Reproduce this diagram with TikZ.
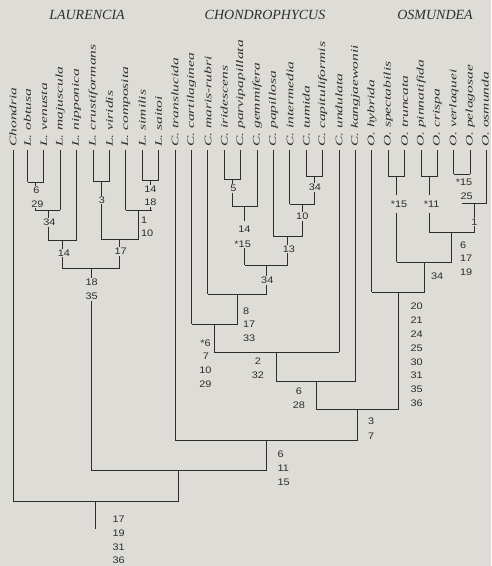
\documentclass[tikz,border=0pt]{standalone}
\usepackage{fontspec}
\setmainfont{Liberation Serif}
\newfontfamily\spfont[FakeStretch=1.55]{Liberation Serif}
\newfontfamily\numfont[FakeStretch=1.15]{Liberation Sans}
\definecolor{bg}{RGB}{221,220,214}
\definecolor{ink}{RGB}{45,45,45}
\tikzset{
  lab/.style={font=\spfont\itshape\fontsize{10}{10}\selectfont, rotate=90, anchor=west, inner sep=0pt, text=ink},
  num/.style={font=\numfont\fontsize{9.5}{9.5}\selectfont, inner sep=0.8pt, text=ink},
  numw/.style={num, anchor=west},
  genus/.style={font=\itshape\fontsize{14}{14}\selectfont, text=ink},
  br/.style={draw=ink, line width=0.9pt}
}
\begin{document}
\begin{tikzpicture}[x=1pt,y=-1pt]
\fill[bg] (0,0) rectangle (491,566);
\useasboundingbox (0,0) rectangle (491,566);

% genus headings
\node[genus] (gL) at (87,14.5) {LAURENCIA};
\node[genus] (gC) at (265,14.5) {CHONDROPHYCUS};
\node[genus] (gO) at (435,14.5) {OSMUNDEA};

% taxa
\node[lab] (n0) at (13,147) {Chondria};
\coordinate (t0) at (13,150);
\coordinate (b0) at (13,501);
\draw[br] (t0) -- (b0);
\foreach \nm/\yb/\dx [count=\i] in {
  L. obtusa/182/0, L. venusta/182/0, L. majuscula/210/0, L. nipponica/240/0,
  L. crustiformans/181.7/0, L. viridis/181.7/0, L. composita/210/0, L. similis/180/0, L. saitoi/180/0,
  C. translucida/440/0, C. cartilaginea/324/0, C. maris-rubri/294/0, C. iridescens/179/0,
  C. parvipapillata/179/0, C. gemmifera/206.7/0, C. papillosa/236.7/0, C. intermedia/204/0,
  C. tumida/176.7/0, C. capituliformis/176.7/0, C. undulata/352/0, C. kangjaewonii/381/0,
  O. hybrida/292/0, O. spectabilis/176/0, O. truncata/176/0, O. pinnatifida/176/0, O. crispa/176/0,
  O. verlaquei/174/0, O. pelagosae/174/0, O. osmunda/203/-1.6}{
  \pgfmathsetmacro\xx{27.5+16.4*(\i-1)}
  \node[lab] (n\i) at (\xx+\dx,147) {\nm};
  \coordinate (t\i) at (\xx,150);
  \coordinate (b\i) at (\xx,\yb);
  \draw[br] (t\i) -- (b\i);
}

% ---------------- Laurencia ----------------
\draw[br] (b1) -- (b2);
\coordinate (A1) at (35.7,182);
\node[num] (A1a) at (36.5,190.5) {6};
\node[num] (A1b) at (37.5,204) {29};
\coordinate (A1e) at (35.7,210);
\draw[br] (A1) -- (A1 |- A1a.north);
\draw[br] (A1 |- A1b.south) -- (A1e) -- (b3);

\coordinate (A2) at (48,210);
\node[num] (A2a) at (49.5,222.7) {34};
\coordinate (A2e) at (48,240);
\draw[br] (A2) -- (A2 |- A2a.north);
\draw[br] (A2 |- A2a.south) -- (A2e) -- (b4);

\coordinate (A3) at (62.35,240);
\node[num] (A3a) at (64,253) {14};
\coordinate (A3e) at (62.35,268);
\draw[br] (A3) -- (A3 |- A3a.north);
\draw[br] (A3 |- A3a.south) -- (A3e);

\draw[br] (b5) -- (b6);
\coordinate (B1) at (101.3,181.7);
\node[num] (B1a) at (101.8,200) {3};
\coordinate (B1e) at (101.3,239.5);
\draw[br] (B1) -- (B1 |- B1a.north);
\draw[br] (B1 |- B1a.south) -- (B1e);

\draw[br] (b8) -- (b9);
\coordinate (B2) at (150.5,180);
\node[num] (B2a) at (150.5,189) {14};
\node[num] (B2b) at (150.5,202.7) {18};
\coordinate (B2e) at (151.5,210);
\draw[br] (B2) -- (B2 |- B2a.north);
\draw[br] (B2 |- B2b.south) -- (B2 |- B2e);
\draw[br] (B2e) -- (b7);
\coordinate (B2m) at (138.2,210);
\node[numw] (B2c) at (140,220) {1};
\node[numw] (B2d) at (140,233.3) {10};
\coordinate (B2f) at (138.2,239.5);
\draw[br] (B2m) -- (B2f) -- (B1e);

\coordinate (B3) at (119.75,239.5);
\node[num] (B3a) at (120.7,251.7) {17};
\coordinate (B3e) at (119.75,268);
\draw[br] (B3) -- (B3 |- B3a.north);
\draw[br] (B3 |- B3a.south) -- (B3e) -- (A3e);

\coordinate (L) at (91.05,268);
\node[num] (La) at (91.7,282.7) {18};
\node[num] (Lb) at (91.7,296.7) {35};
\coordinate (Le) at (91.05,470);
\draw[br] (L) -- (L |- La.north);
\draw[br] (L |- Lb.south) -- (Le);

% ---------------- Chondrophycus ----------------
\draw[br] (b13) -- (b14);
\coordinate (C1) at (232.5,179);
\node[num] (C1a) at (233.3,188.3) {5};
\coordinate (C1e) at (232.5,206.7);
\draw[br] (C1) -- (C1 |- C1a.north);
\draw[br] (C1 |- C1a.south) -- (C1e) -- (b15);

\coordinate (C2) at (244.8,206.7);
\node[num] (C2a) at (244.5,229.3) {14};
\node[num] (C2b) at (242.7,244) {*15};
\coordinate (C2e) at (244.8,265);
\draw[br] (C2) -- ([yshift=4pt]C2 |- C2a.north);
\draw[br] (C2 |- C2b.south) -- (C2e);

\draw[br] (b18) -- (b19);
\coordinate (C3) at (314.5,176.7);
\node[num] (C3a) at (315,187.3) {34};
\coordinate (C3e) at (314.5,204);
\draw[br] (C3) -- (C3 |- C3a.north);
\draw[br] (C3 |- C3a.south) -- (C3e) -- (b17);

\coordinate (C4) at (302.2,204);
\node[num] (C4a) at (302.3,216.7) {10};
\coordinate (C4e) at (302.2,236.7);
\draw[br] (C4) -- (C4 |- C4a.north);
\draw[br] (C4 |- C4a.south) -- (C4e) -- (b16);

\coordinate (C5) at (287.85,236.7);
\node[num] (C5a) at (289,249) {13};
\coordinate (C5e) at (287.85,265);
\draw[br] (C5) -- (C5 |- C5a.north);
\draw[br] (C5 |- C5a.south) -- (C5e) -- (C2e);

\coordinate (C6) at (266.3,265);
\node[num] (C6a) at (267.3,280.7) {34};
\coordinate (C6e) at (266.3,294);
\draw[br] (C6) -- (C6 |- C6a.north);
\draw[br] (C6 |- C6a.south) -- (C6e) -- (b12);

\coordinate (C7) at (237.1,294);
\node[numw] (C7a) at (242,311) {8};
\node[numw] (C7b) at (242,324.7) {17};
\node[numw] (C7c) at (242,338) {33};
\coordinate (C7e) at (237.1,324);
\draw[br] (C7) -- (C7e) -- (b11);

\coordinate (C8) at (214.3,324);
\node[num] (C8a) at (205.5,343) {*6};
\node[num] (C8b) at (206,356) {7};
\node[num] (C8c) at (205.5,370) {10};
\node[num] (C8d) at (205.5,384) {29};
\coordinate (C8e) at (214.3,352);
\draw[br] (C8) -- (C8e) -- (b20);

\coordinate (C9) at (276.7,352);
\node[num] (C9a) at (258,361) {2};
\node[num] (C9b) at (258,375) {32};
\coordinate (C9e) at (276.7,381);
\draw[br] (C9) -- (C9e) -- (b21);

\coordinate (C10) at (316.1,381);
\node[num] (C10a) at (299,391.7) {6};
\node[num] (C10b) at (299,405.7) {28};
\coordinate (C10e) at (316.1,409);
\draw[br] (C10) -- (C10e);

% ---------------- Osmundea ----------------
\draw[br] (b23) -- (b24);
\coordinate (O1) at (396.5,176);
\node[num] (O1a) at (399,204) {*15};
\coordinate (O1e) at (396.5,262);
\draw[br] (O1) -- ([yshift=5pt]O1 |- O1a.north);
\draw[br] ([yshift=-5pt]O1 |- O1a.south) -- (O1e);

\draw[br] (b25) -- (b26);
\coordinate (O2) at (429.3,176);
\node[num] (O2a) at (431.7,204) {*11};
\coordinate (O2e) at (429.3,232);
\draw[br] (O2) -- ([yshift=5pt]O2 |- O2a.north);
\draw[br] ([yshift=-5pt]O2 |- O2a.south) -- (O2e);

\draw[br] (b27) -- (b28);
\coordinate (O3) at (462.1,174);
\node[num] (O3a) at (464,182.3) {*15};
\node[num] (O3b) at (466.7,196.7) {25};
\coordinate (O3e) at (462.1,203);
\draw[br] (O3e) -- (b29);

\coordinate (O3m) at (474.4,203);
\node[num] (O3c) at (474.4,222) {1};
\coordinate (O3f) at (474.4,232);
\draw[br] (O3m) -- (O3m |- O3c.north);
\draw[br] (O3m |- O3c.south) -- (O3f) -- (O2e);

\coordinate (O4) at (451.85,232);
\node[numw] (O4a) at (459,245) {6};
\node[numw] (O4b) at (459,258.5) {17};
\node[numw] (O4c) at (459,272) {19};
\coordinate (O4e) at (451.85,262);
\draw[br] (O4) -- (O4e) -- (O1e);

\coordinate (O5) at (424.2,262);
\node[numw] (O5a) at (430,276) {34};
\coordinate (O5e) at (424.2,292);
\draw[br] (O5) -- (O5e) -- (b22);

\coordinate (O6) at (398.05,292);
\foreach \v [count=\k from 0] in {20,21,24,25,30,31,35,36}{
  \node[numw] (O6l\k) at (409.5,306.7+13.8*\k) {\v};
}
\coordinate (O6e) at (398.05,409);
\draw[br] (O6) -- (O6e) -- (C10e);

% ---------------- deeper nodes ----------------
\coordinate (CO1) at (357.1,409);
\node[numw] (CO1a) at (367,421) {3};
\node[numw] (CO1b) at (367,436) {7};
\coordinate (CO1e) at (357.1,440);
\draw[br] (CO1) -- (CO1e) -- (b10);

\coordinate (CO2) at (266.1,440);
\node[numw] (CO2a) at (276.5,454) {6};
\node[numw] (CO2b) at (276.5,468) {11};
\node[numw] (CO2c) at (276.5,482) {15};
\coordinate (CO2e) at (266.1,470);
\draw[br] (CO2) -- (CO2e) -- (Le);

\coordinate (LC) at (178.6,470);
\coordinate (LCe) at (178.6,501);
\draw[br] (LC) -- (LCe) -- (b0);

\coordinate (R) at (95.8,501);
\coordinate (Re) at (95.8,529);
\draw[br] (R) -- (Re);
\node[numw] (Ra) at (111.5,519) {17};
\node[numw] (Rb) at (111.5,533) {19};
\node[numw] (Rc) at (111.5,547) {31};
\node[numw] (Rd) at (111.5,560) {36};
\end{tikzpicture}
\end{document}
